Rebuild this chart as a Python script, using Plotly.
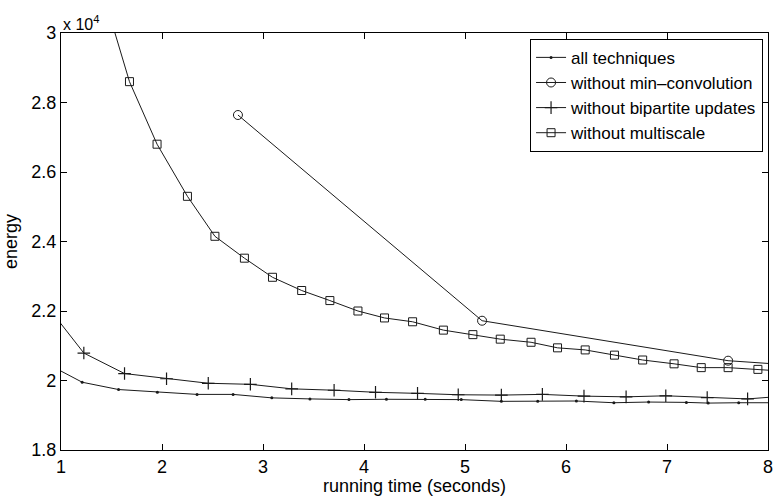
import plotly.graph_objects as go

# ---- data (energy values) ----
t_all = [0.85, 1.21, 1.57, 1.954, 2.347, 2.704, 3.087, 3.465, 3.851, 4.222, 4.606, 4.963,
         5.36, 5.72, 6.103, 6.474, 6.818, 7.192, 7.408, 7.71, 8.1]
e_all = [20500, 19950, 19740, 19660, 19600, 19600, 19500, 19470, 19450, 19460, 19460, 19450,
         19400, 19400, 19410, 19360, 19380, 19370, 19350, 19360, 19360]

t_nominc = [2.752, 5.169, 7.605, 10.0]
e_nominc = [27640, 21720, 20570, 20090]

t_nobip = [0.82, 1.226, 1.629, 2.045, 2.458, 2.875, 3.284, 3.704, 4.114, 4.53, 4.933, 5.36,
           5.766, 6.178, 6.595, 6.988, 7.398, 7.798, 8.2]
e_nobip = [22300, 20790, 20200, 20050, 19920, 19890, 19760, 19720, 19660, 19630, 19590, 19580,
           19600, 19550, 19530, 19560, 19510, 19470, 19560]

t_nomulti = [1.38, 1.678, 1.951, 2.252, 2.524, 2.816, 3.094, 3.383, 3.662, 3.94, 4.203, 4.481,
             4.786, 5.078, 5.349, 5.654, 5.916, 6.19, 6.48, 6.759, 7.07, 7.339, 7.605, 7.90, 8.2]
e_nomulti = [31500, 28600, 26800, 25300, 24150, 23520, 22970, 22590, 22300, 22000, 21800, 21690,
             21450, 21320, 21190, 21100, 20940, 20880, 20730, 20590, 20480, 20370, 20370, 20320, 20260]

names = ["all techniques", "without min\u2013convolution", "without bipartite updates", "without multiscale"]
x_ticks = [1, 2, 3, 4, 5, 6, 7, 8]
y_ticks = [18000, 20000, 22000, 24000, 26000, 28000, 30000]
y_tick_labels = ["1.8", "2", "2.2", "2.4", "2.6", "2.8", "3"]

LC = "#1a1a1a"
FONT = "Liberation Sans, Arial, Helvetica, sans-serif"

fig = go.Figure()
fig.add_trace(go.Scatter(x=t_all, y=e_all, name=names[0], mode="lines+markers",
                         line=dict(color=LC, width=1),
                         marker=dict(symbol="circle", size=3, color=LC)))
fig.add_trace(go.Scatter(x=t_nominc, y=e_nominc, name=names[1], mode="lines+markers",
                         line=dict(color=LC, width=1),
                         marker=dict(symbol="circle-open", size=9, color=LC, line=dict(width=1))))
fig.add_trace(go.Scatter(x=t_nobip, y=e_nobip, name=names[2], mode="lines+markers",
                         line=dict(color=LC, width=1),
                         marker=dict(symbol="cross-thin-open", size=9, color=LC, line=dict(width=1.2, color=LC))))
fig.add_trace(go.Scatter(x=t_nomulti, y=e_nomulti, name=names[3], mode="lines+markers",
                         line=dict(color=LC, width=1),
                         marker=dict(symbol="square-open", size=8, color=LC, line=dict(width=1))))

axis_common = dict(showgrid=False, zeroline=False, showline=True, linecolor="black", linewidth=1.3,
                   mirror="ticks", ticks="inside", ticklen=6, tickcolor="black", tickwidth=1,
                   ticklabeloverflow="allow",
                   tickfont=dict(family=FONT, size=18, color="black"))

fig.update_xaxes(range=[1, 8], tickvals=x_ticks, ticktext=[str(v) for v in x_ticks],
                 title=dict(text="running time (seconds)", font=dict(family=FONT, size=18, color="black"),
                            standoff=2),
                 **axis_common)
fig.update_yaxes(range=[18000, 30000], tickvals=y_ticks, ticktext=y_tick_labels,
                 title=dict(text="energy", font=dict(family=FONT, size=18, color="black"), standoff=8),
                 **axis_common)

fig.add_annotation(x=0, y=1, xref="paper", yref="paper", xanchor="left", yanchor="bottom",
                   text="x 10<sup>4</sup>", showarrow=False, yshift=-2,
                   font=dict(family=FONT, size=16, color="black"))

fig.update_layout(
    width=776, height=496,
    margin=dict(l=61, r=3, t=33, b=46),
    paper_bgcolor="white", plot_bgcolor="white",
    font=dict(family=FONT, color="black"),
    legend=dict(x=0.993, y=0.986, xanchor="right", yanchor="top",
                bgcolor="white", bordercolor="black", borderwidth=1,
                font=dict(family=FONT, size=17, color="black"),
                tracegroupgap=0, itemwidth=30),
    showlegend=True,
)

fig.write_html("out.html", config={"displayModeBar": False},
               post_script="document.body.style.margin='0';document.body.style.overflow='hidden';")
